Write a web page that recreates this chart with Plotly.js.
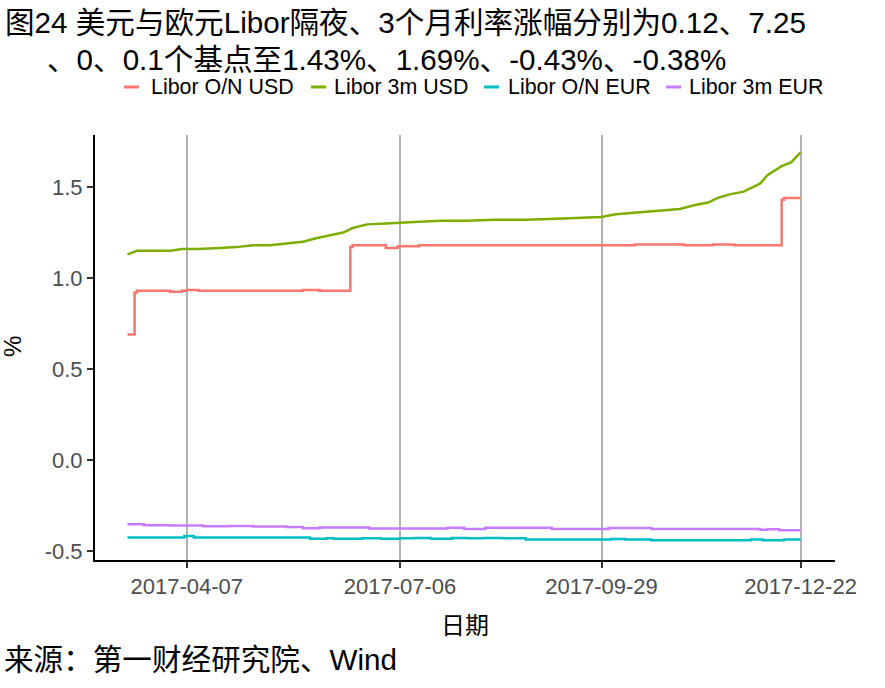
<!DOCTYPE html>
<html><head><meta charset="utf-8">
<script src="https://cdn.plot.ly/plotly-3.0.1.min.js"></script>
<style>body{margin:0;background:#fff}#chart{width:885px;height:688px}</style>
</head><body><div id="chart"></div>
<script>
const seriesNames = ['Libor O/N USD','Libor 3m USD','Libor O/N EUR','Libor 3m EUR'];
const seriesColors = ['#F8766D','#7CAE00','#00BFC4','#C77CFF'];

const onUsdDates = ['2017-03-13','2017-03-15','2017-03-16','2017-03-17','2017-03-24','2017-03-31','2017-04-05','2017-04-07','2017-04-12','2017-04-21','2017-05-01','2017-05-10','2017-05-19','2017-05-26','2017-06-02','2017-06-09','2017-06-14','2017-06-15','2017-06-16','2017-06-23','2017-06-30','2017-07-05','2017-07-14','2017-07-21','2017-08-01','2017-08-11','2017-08-22','2017-09-01','2017-09-12','2017-09-22','2017-10-02','2017-10-13','2017-10-25','2017-11-03','2017-11-15','2017-11-24','2017-12-01','2017-12-08','2017-12-13','2017-12-14','2017-12-15','2017-12-22'];
const onUsdValues = [0.69,0.69,0.92,0.93,0.93,0.925,0.93,0.935,0.93,0.93,0.93,0.93,0.93,0.935,0.93,0.93,0.93,1.17,1.18,1.18,1.165,1.175,1.18,1.18,1.18,1.18,1.18,1.18,1.18,1.18,1.18,1.185,1.185,1.18,1.185,1.18,1.18,1.18,1.18,1.43,1.44,1.44];

const m3UsdDates = ['2017-03-13','2017-03-15','2017-03-17','2017-03-24','2017-03-31','2017-04-05','2017-04-12','2017-04-21','2017-04-28','2017-05-05','2017-05-12','2017-05-19','2017-05-26','2017-06-01','2017-06-07','2017-06-12','2017-06-16','2017-06-22','2017-06-30','2017-07-06','2017-07-14','2017-07-24','2017-08-03','2017-08-15','2017-08-28','2017-09-07','2017-09-18','2017-09-29','2017-10-05','2017-10-13','2017-10-24','2017-11-01','2017-11-07','2017-11-13','2017-11-17','2017-11-22','2017-11-28','2017-12-05','2017-12-08','2017-12-14','2017-12-18','2017-12-22'];
const m3UsdValues = [1.13,1.14,1.15,1.15,1.15,1.16,1.16,1.165,1.17,1.18,1.18,1.19,1.20,1.22,1.235,1.25,1.275,1.295,1.30,1.305,1.31,1.315,1.315,1.32,1.32,1.325,1.33,1.335,1.35,1.36,1.37,1.38,1.40,1.415,1.44,1.46,1.475,1.52,1.565,1.615,1.635,1.69];

const onEurDates = ['2017-03-13','2017-04-05','2017-04-06','2017-04-10','2017-05-01','2017-05-26','2017-05-29','2017-06-05','2017-06-08','2017-06-20','2017-06-28','2017-07-06','2017-07-12','2017-07-19','2017-07-28','2017-08-03','2017-08-10','2017-08-18','2017-08-28','2017-09-06','2017-09-15','2017-09-29','2017-10-03','2017-10-09','2017-10-20','2017-10-30','2017-11-07','2017-11-24','2017-12-01','2017-12-06','2017-12-15','2017-12-22'];
const onEurValues = [-0.425,-0.425,-0.417,-0.425,-0.425,-0.425,-0.432,-0.43,-0.432,-0.43,-0.432,-0.43,-0.428,-0.432,-0.428,-0.43,-0.428,-0.43,-0.436,-0.436,-0.436,-0.436,-0.434,-0.436,-0.441,-0.44,-0.441,-0.441,-0.437,-0.441,-0.436,-0.436];

const m3EurDates = ['2017-03-13','2017-03-20','2017-03-31','2017-04-07','2017-04-14','2017-04-25','2017-05-05','2017-05-19','2017-05-26','2017-06-02','2017-06-16','2017-06-23','2017-07-06','2017-07-14','2017-07-26','2017-08-02','2017-08-11','2017-08-25','2017-09-08','2017-09-22','2017-10-02','2017-10-13','2017-10-20','2017-11-03','2017-11-17','2017-12-05','2017-12-08','2017-12-13','2017-12-22'];
const m3EurValues = [-0.353,-0.358,-0.36,-0.36,-0.363,-0.362,-0.365,-0.368,-0.375,-0.37,-0.37,-0.376,-0.376,-0.376,-0.372,-0.378,-0.372,-0.372,-0.378,-0.378,-0.373,-0.373,-0.378,-0.378,-0.378,-0.383,-0.38,-0.385,-0.385];

const xTickVals = ['2017-04-07','2017-07-06','2017-09-29','2017-12-22'];
const xTickText = ['2017-04-07','2017-07-06','2017-09-29','2017-12-22'];
const yTickVals = [-0.5,0,0.5,1.0,1.5];
const yTickText = ['-0.5','0.0','0.5','1.0','1.5'];

const titleLine1 = '图24 美元与欧元Libor隔夜、3个月利率涨幅分别为0.12、7.25';
const titleLine2 = '、0、0.1个基点至1.43%、1.69%、-0.43%、-0.38%';
const sourceText = '来源：第一财经研究院、Wind';
const xTitle = '日期';
const yTitle = '%';

const FONT = 'Liberation Sans, Arial, Noto Sans CJK SC, sans-serif';
const allX = [onUsdDates, m3UsdDates, onEurDates, m3EurDates];
const allY = [onUsdValues, m3UsdValues, onEurValues, m3EurValues];
const shapesLine = ['hv','linear','hv','hv'];
const traces = seriesNames.map((n,i)=>({
  type:'scatter', mode:'lines', name:n, x:allX[i], y:allY[i], showlegend:false,
  line:{color:seriesColors[i], width:2.5, shape:shapesLine[i]}
}));

const L=95, R=50, T=135, B=128, W=885, H=688;
const pw=W-L-R, ph=H-T-B;
const px=(x)=>(x-L)/pw;
const py=(y)=>1-(y-T)/ph;

// custom legend (ggplot-style short keys)
const legKeyX = [124, 311, 484, 666];
const legTextX = [149, 332, 506, 687];
const legY = 87;
const shapes = seriesNames.map((n,i)=>({
  type:'line', xref:'paper', yref:'paper', x0:px(legKeyX[i]), x1:px(legKeyX[i]+15), y0:py(legY), y1:py(legY),
  line:{color:seriesColors[i], width:3}
}));
const annotations = [
  {xref:'paper',yref:'paper',x:px(3),y:py(22),xanchor:'left',yanchor:'middle',showarrow:false,
   text:titleLine1, font:{size:29.6,color:'#000',family:FONT}},
  {xref:'paper',yref:'paper',x:px(45),y:py(59),xanchor:'left',yanchor:'middle',showarrow:false,
   text:titleLine2, font:{size:29.6,color:'#000',family:FONT}},
  {xref:'paper',yref:'paper',x:px(2),y:py(659),xanchor:'left',yanchor:'middle',showarrow:false,
   text:sourceText, font:{size:29.6,color:'#000',family:FONT}},
  {xref:'paper',yref:'paper',x:px(465),y:py(625),xanchor:'center',yanchor:'middle',showarrow:false,
   text:xTitle, font:{size:24,color:'#000',family:FONT}},
  {xref:'paper',yref:'paper',x:px(12),y:py(347),xanchor:'center',yanchor:'middle',showarrow:false,textangle:-90,
   text:yTitle, font:{size:24,color:'#000',family:FONT}}
];
seriesNames.forEach((n,i)=>annotations.push({
  xref:'paper',yref:'paper',x:px(legTextX[i]),y:py(legY),xanchor:'left',yanchor:'middle',showarrow:false,
  text:n, font:{size:21.4,color:'#000',family:FONT}
}));

const layout = {
  width:W, height:H,
  margin:{l:L,r:R,t:T,b:B},
  paper_bgcolor:'#fff', plot_bgcolor:'#fff',
  font:{family:FONT, color:'#000'},
  showlegend:false,
  xaxis:{type:'date', range:['2017-02-27 07:00','2018-01-05 12:00'],
    tickvals:xTickVals, ticktext:xTickText, tickfont:{size:22,color:'#4D4D4D',family:FONT},
    showgrid:true, gridcolor:'#B3B3B3', gridwidth:2,
    showline:true, linecolor:'#000', linewidth:2,
    ticks:'outside', ticklen:6, tickwidth:2, tickcolor:'#333',
    zeroline:false},
  yaxis:{range:[-0.549,1.786], tickvals:yTickVals, ticktext:yTickText,
    tickfont:{size:22,color:'#4D4D4D',family:FONT},
    showgrid:false, zeroline:false,
    showline:true, linecolor:'#000', linewidth:2,
    ticks:'outside', ticklen:6, tickwidth:2, tickcolor:'#333'},
  shapes:shapes,
  annotations:annotations
};
Plotly.newPlot('chart', traces, layout, {displayModeBar:false, staticPlot:true});
</script></body></html>
